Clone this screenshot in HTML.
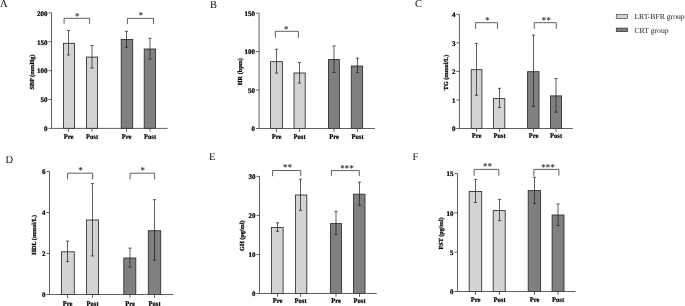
<!DOCTYPE html>
<html><head><meta charset="utf-8"><title>Figure</title>
<style>
html,body{margin:0;padding:0;background:#fff;}
body{width:685px;height:306px;overflow:hidden;}
svg{display:block;text-rendering:geometricPrecision;filter:blur(0.3px);}
text{font-family:"Liberation Serif", "Times New Roman", serif;}
.tk{font-size:7.0px;font-weight:bold;fill:#000;stroke:#000;stroke-width:0.22px;}
.xl{font-size:7.1px;font-weight:bold;fill:#000;stroke:#000;stroke-width:0.22px;}
.yl{font-size:6.2px;font-weight:bold;fill:#000;stroke:#000;stroke-width:0.22px;}
.st{font-family:"DejaVu Sans",sans-serif;font-size:8.2px;font-weight:bold;fill:#3a3a3a;letter-spacing:0.4px;}
.lt{font-size:10.5px;fill:#111;}
.lg{font-size:7.7px;fill:#1a1a1a;}
</style></head><body>
<svg width="685" height="306" viewBox="0 0 685 306">
<rect width="685" height="306" fill="#fff"/>
<g><text class="lt" x="0" y="7.4">A</text><rect x="63.5" y="43.3" width="11" height="85.1" fill="#d3d3d3" stroke="#2a2a2a" stroke-width="0.85"/><path d="M68.5 30.5V55M66.9 30.5H70.1M66.9 55H70.1" stroke="#1a1a1a" stroke-width="0.7" fill="none"/><rect x="86.5" y="57.1" width="11.1" height="71.3" fill="#d3d3d3" stroke="#2a2a2a" stroke-width="0.85"/><path d="M92 45.5V68.1M90.4 45.5H93.6M90.4 68.1H93.6" stroke="#1a1a1a" stroke-width="0.7" fill="none"/><rect x="121.2" y="39.5" width="11.5" height="88.9" fill="#808080" stroke="#2a2a2a" stroke-width="0.85"/><path d="M126.5 31.3V47.3M124.9 31.3H128.1M124.9 47.3H128.1" stroke="#1a1a1a" stroke-width="0.7" fill="none"/><rect x="144.2" y="49" width="11.4" height="79.4" fill="#808080" stroke="#2a2a2a" stroke-width="0.85"/><path d="M150 38.3V59M148.4 38.3H151.6M148.4 59H151.6" stroke="#1a1a1a" stroke-width="0.7" fill="none"/><path d="M51.5 12.8V128.4H167.6M48.5 12.8H51.5M48.5 41.7H51.5M48.5 70.6H51.5M48.5 99.5H51.5M48.5 128.4H51.5M68.5 128.4V131.7M92 128.4V131.7M126.5 128.4V131.7M150 128.4V131.7" stroke="#454545" stroke-width="0.85" fill="none"/><text class="tk" x="47.5" y="15.6" text-anchor="end">200</text><text class="tk" x="47.5" y="44.5" text-anchor="end">150</text><text class="tk" x="47.5" y="73.4" text-anchor="end">100</text><text class="tk" x="47.5" y="102.3" text-anchor="end">50</text><text class="tk" x="47.5" y="131.2" text-anchor="end">0</text><text class="xl" text-anchor="middle" x="68.6" y="139" textLength="9.8" lengthAdjust="spacingAndGlyphs">Pre</text><text class="xl" text-anchor="middle" x="92.1" y="139" textLength="11.97" lengthAdjust="spacingAndGlyphs">Post</text><text class="xl" text-anchor="middle" x="126.6" y="139" textLength="9.8" lengthAdjust="spacingAndGlyphs">Pre</text><text class="xl" text-anchor="middle" x="150.1" y="139" textLength="11.97" lengthAdjust="spacingAndGlyphs">Post</text><path d="M64.1 24V18.3H89.6V24" stroke="#454545" stroke-width="0.85" fill="none"/><text class="st" x="77.3" y="18.7" text-anchor="middle">*</text><path d="M127.4 24.1V18.4H153.5V24.1" stroke="#454545" stroke-width="0.85" fill="none"/><text class="st" x="141.2" y="18.35" text-anchor="middle">*</text><text class="yl" text-anchor="middle" transform="translate(34.2 72) rotate(-90)">SBP (mmHg)</text></g><g><text class="lt" x="210" y="7.6">B</text><rect x="270.4" y="61.7" width="12" height="66.8" fill="#d3d3d3" stroke="#2a2a2a" stroke-width="0.85"/><path d="M276.5 49.3V73.1M274.9 49.3H278.1M274.9 73.1H278.1" stroke="#1a1a1a" stroke-width="0.7" fill="none"/><rect x="294" y="73" width="11.2" height="55.5" fill="#d3d3d3" stroke="#2a2a2a" stroke-width="0.85"/><path d="M299.5 62.5V83.1M297.9 62.5H301.1M297.9 83.1H301.1" stroke="#1a1a1a" stroke-width="0.7" fill="none"/><rect x="328.5" y="59.6" width="10.9" height="68.9" fill="#808080" stroke="#2a2a2a" stroke-width="0.85"/><path d="M334 45.9V72.5M332.4 45.9H335.6M332.4 72.5H335.6" stroke="#1a1a1a" stroke-width="0.7" fill="none"/><rect x="351.3" y="66" width="11.3" height="62.5" fill="#808080" stroke="#2a2a2a" stroke-width="0.85"/><path d="M357.5 58.2V72.7M355.9 58.2H359.1M355.9 72.7H359.1" stroke="#1a1a1a" stroke-width="0.7" fill="none"/><path d="M259.1 13.2V128.5H375M256.1 13.2H259.1M256.1 51.6H259.1M256.1 90H259.1M256.1 128.5H259.1M276.5 128.5V131.8M299.5 128.5V131.8M334 128.5V131.8M357.5 128.5V131.8" stroke="#454545" stroke-width="0.85" fill="none"/><text class="tk" x="255.1" y="16" text-anchor="end">150</text><text class="tk" x="255.1" y="54.4" text-anchor="end">100</text><text class="tk" x="255.1" y="92.8" text-anchor="end">50</text><text class="tk" x="255.1" y="131.3" text-anchor="end">0</text><text class="xl" text-anchor="middle" x="276.6" y="138.7" textLength="9.8" lengthAdjust="spacingAndGlyphs">Pre</text><text class="xl" text-anchor="middle" x="299.6" y="138.7" textLength="11.97" lengthAdjust="spacingAndGlyphs">Post</text><text class="xl" text-anchor="middle" x="334.1" y="138.7" textLength="9.8" lengthAdjust="spacingAndGlyphs">Pre</text><text class="xl" text-anchor="middle" x="357.6" y="138.7" textLength="11.97" lengthAdjust="spacingAndGlyphs">Post</text><path d="M275.3 37.8V31.3H298.4V37.8" stroke="#454545" stroke-width="0.85" fill="none"/><text class="st" x="286.25" y="32.1" text-anchor="middle">*</text><text class="yl" text-anchor="middle" transform="translate(241.6 71.7) rotate(-90)">HR (bpm)</text></g><g><text class="lt" x="415" y="7.4">C</text><rect x="471.2" y="69.7" width="10.7" height="58.8" fill="#d3d3d3" stroke="#2a2a2a" stroke-width="0.85"/><path d="M476.5 43.4V95.3M474.9 43.4H478.1M474.9 95.3H478.1" stroke="#1a1a1a" stroke-width="0.7" fill="none"/><rect x="493.4" y="98.6" width="11.4" height="29.9" fill="#d3d3d3" stroke="#2a2a2a" stroke-width="0.85"/><path d="M499.5 88.3V107.5M497.9 88.3H501.1M497.9 107.5H501.1" stroke="#1a1a1a" stroke-width="0.7" fill="none"/><rect x="527.6" y="71.7" width="11.4" height="56.8" fill="#808080" stroke="#2a2a2a" stroke-width="0.85"/><path d="M533.5 35.2V106.4M531.9 35.2H535.1M531.9 106.4H535.1" stroke="#1a1a1a" stroke-width="0.7" fill="none"/><rect x="550.4" y="95.9" width="11.2" height="32.6" fill="#808080" stroke="#2a2a2a" stroke-width="0.85"/><path d="M556 78.6V112.2M554.4 78.6H557.6M554.4 112.2H557.6" stroke="#1a1a1a" stroke-width="0.7" fill="none"/><path d="M459.4 14.4V128.5H572.8M456.4 14.4H459.4M456.4 42.9H459.4M456.4 71.45H459.4M456.4 100H459.4M456.4 128.5H459.4M476.5 128.5V131.8M499.5 128.5V131.8M533.5 128.5V131.8M556 128.5V131.8" stroke="#454545" stroke-width="0.85" fill="none"/><text class="tk" x="455.4" y="17.2" text-anchor="end">4</text><text class="tk" x="455.4" y="45.7" text-anchor="end">3</text><text class="tk" x="455.4" y="74.25" text-anchor="end">2</text><text class="tk" x="455.4" y="102.8" text-anchor="end">1</text><text class="tk" x="455.4" y="131.3" text-anchor="end">0</text><text class="xl" text-anchor="middle" x="476.6" y="138.4" textLength="9.8" lengthAdjust="spacingAndGlyphs">Pre</text><text class="xl" text-anchor="middle" x="499.6" y="138.4" textLength="11.97" lengthAdjust="spacingAndGlyphs">Post</text><text class="xl" text-anchor="middle" x="533.6" y="138.4" textLength="9.8" lengthAdjust="spacingAndGlyphs">Pre</text><text class="xl" text-anchor="middle" x="556.1" y="138.4" textLength="11.97" lengthAdjust="spacingAndGlyphs">Post</text><path d="M475.6 28.8V22.7H497.5V28.8" stroke="#454545" stroke-width="0.85" fill="none"/><text class="st" x="487.5" y="23.3" text-anchor="middle">*</text><path d="M534.3 28.8V22.7H556.3V28.8" stroke="#454545" stroke-width="0.85" fill="none"/><text class="st" x="546.4" y="23.3" text-anchor="middle">**</text><text class="yl" text-anchor="middle" transform="translate(447.6 72.4) rotate(-90)">TG (mmol/L)</text></g><g><text class="lt" x="5.5" y="162.8">D</text><rect x="61.4" y="251.8" width="12.9" height="42.7" fill="#d3d3d3" stroke="#2a2a2a" stroke-width="0.85"/><path d="M67.5 241.1V261.6M65.9 241.1H69.1M65.9 261.6H69.1" stroke="#1a1a1a" stroke-width="0.7" fill="none"/><rect x="86.4" y="220" width="12.1" height="74.5" fill="#d3d3d3" stroke="#2a2a2a" stroke-width="0.85"/><path d="M92.5 183.6V256M90.9 183.6H94.1M90.9 256H94.1" stroke="#1a1a1a" stroke-width="0.7" fill="none"/><rect x="123.8" y="258" width="12" height="36.5" fill="#808080" stroke="#2a2a2a" stroke-width="0.85"/><path d="M130 248.1V267M128.4 248.1H131.6M128.4 267H131.6" stroke="#1a1a1a" stroke-width="0.7" fill="none"/><rect x="148.3" y="230.7" width="12.4" height="63.8" fill="#808080" stroke="#2a2a2a" stroke-width="0.85"/><path d="M154.5 199.7V260.2M152.9 199.7H156.1M152.9 260.2H156.1" stroke="#1a1a1a" stroke-width="0.7" fill="none"/><path d="M49.5 171.5V294.5H173.3M46.5 171.5H49.5M46.5 212.5H49.5M46.5 253.5H49.5M46.5 294.5H49.5M67.5 294.5V297.8M92.5 294.5V297.8M130 294.5V297.8M154.5 294.5V297.8" stroke="#454545" stroke-width="0.85" fill="none"/><text class="tk" x="45.5" y="174.3" text-anchor="end">6</text><text class="tk" x="45.5" y="215.3" text-anchor="end">4</text><text class="tk" x="45.5" y="256.3" text-anchor="end">2</text><text class="tk" x="45.5" y="297.3" text-anchor="end">0</text><text class="xl" text-anchor="middle" x="67.6" y="305.7" textLength="9.8" lengthAdjust="spacingAndGlyphs">Pre</text><text class="xl" text-anchor="middle" x="92.6" y="305.7" textLength="11.97" lengthAdjust="spacingAndGlyphs">Post</text><text class="xl" text-anchor="middle" x="130.1" y="305.7" textLength="9.8" lengthAdjust="spacingAndGlyphs">Pre</text><text class="xl" text-anchor="middle" x="154.6" y="305.7" textLength="11.97" lengthAdjust="spacingAndGlyphs">Post</text><path d="M67.5 179.3V173.2H92.6V179.3" stroke="#454545" stroke-width="0.85" fill="none"/><text class="st" x="80.95" y="173.2" text-anchor="middle">*</text><path d="M130.1 179.3V173.2H154.6V179.3" stroke="#454545" stroke-width="0.85" fill="none"/><text class="st" x="142.95" y="173.2" text-anchor="middle">*</text><text class="yl" text-anchor="middle" transform="translate(35.6 234.9) rotate(-90)">HDL (mmol/L)</text></g><g><text class="lt" x="209" y="160">E</text><rect x="271.4" y="227.5" width="11.7" height="66" fill="#d3d3d3" stroke="#2a2a2a" stroke-width="0.85"/><path d="M277.5 222.8V231.4M275.9 222.8H279.1M275.9 231.4H279.1" stroke="#1a1a1a" stroke-width="0.7" fill="none"/><rect x="295.4" y="195" width="11.4" height="98.5" fill="#d3d3d3" stroke="#2a2a2a" stroke-width="0.85"/><path d="M300.5 179.2V210.3M298.9 179.2H302.1M298.9 210.3H302.1" stroke="#1a1a1a" stroke-width="0.7" fill="none"/><rect x="330.4" y="223.6" width="11.2" height="69.9" fill="#808080" stroke="#2a2a2a" stroke-width="0.85"/><path d="M336 211.4V234.4M334.4 211.4H337.6M334.4 234.4H337.6" stroke="#1a1a1a" stroke-width="0.7" fill="none"/><rect x="353.5" y="194.2" width="11.5" height="99.3" fill="#808080" stroke="#2a2a2a" stroke-width="0.85"/><path d="M359.5 182.2V205.3M357.9 182.2H361.1M357.9 205.3H361.1" stroke="#1a1a1a" stroke-width="0.7" fill="none"/><path d="M259.5 176.3V293.5H376.8M256.5 176.4H259.5M256.5 215.4H259.5M256.5 254.5H259.5M256.5 293.5H259.5M277.5 293.5V296.8M300.5 293.5V296.8M336 293.5V296.8M359.5 293.5V296.8" stroke="#454545" stroke-width="0.85" fill="none"/><text class="tk" x="255.5" y="179.2" text-anchor="end">30</text><text class="tk" x="255.5" y="218.2" text-anchor="end">20</text><text class="tk" x="255.5" y="257.3" text-anchor="end">10</text><text class="tk" x="255.5" y="296.3" text-anchor="end">0</text><text class="xl" text-anchor="middle" x="277.6" y="303.4" textLength="9.8" lengthAdjust="spacingAndGlyphs">Pre</text><text class="xl" text-anchor="middle" x="300.6" y="303.4" textLength="11.97" lengthAdjust="spacingAndGlyphs">Post</text><text class="xl" text-anchor="middle" x="336.1" y="303.4" textLength="9.8" lengthAdjust="spacingAndGlyphs">Pre</text><text class="xl" text-anchor="middle" x="359.6" y="303.4" textLength="11.97" lengthAdjust="spacingAndGlyphs">Post</text><path d="M272.6 176.2V170.5H300.7V176.2" stroke="#454545" stroke-width="0.85" fill="none"/><text class="st" x="287.8" y="170.2" text-anchor="middle">**</text><path d="M331.4 176.1V170.6H359.3V176.1" stroke="#454545" stroke-width="0.85" fill="none"/><text class="st" x="347.2" y="170.55" text-anchor="middle">***</text><text class="yl" text-anchor="middle" transform="translate(243.8 235.7) rotate(-90)">GH (pg/ml)</text></g><g><text class="lt" x="412.5" y="160">F</text><rect x="469.2" y="191.4" width="12.5" height="100.1" fill="#d3d3d3" stroke="#2a2a2a" stroke-width="0.85"/><path d="M475.5 179.4V202.5M473.9 179.4H477.1M473.9 202.5H477.1" stroke="#1a1a1a" stroke-width="0.7" fill="none"/><rect x="493.2" y="210.6" width="12" height="80.9" fill="#d3d3d3" stroke="#2a2a2a" stroke-width="0.85"/><path d="M499.5 199.4V220.6M497.9 199.4H501.1M497.9 220.6H501.1" stroke="#1a1a1a" stroke-width="0.7" fill="none"/><rect x="528.2" y="190.6" width="12.4" height="100.9" fill="#808080" stroke="#2a2a2a" stroke-width="0.85"/><path d="M534.5 177.2V203.6M532.9 177.2H536.1M532.9 203.6H536.1" stroke="#1a1a1a" stroke-width="0.7" fill="none"/><rect x="552.1" y="215" width="11.9" height="76.5" fill="#808080" stroke="#2a2a2a" stroke-width="0.85"/><path d="M558 203.9V225.6M556.4 203.9H559.6M556.4 225.6H559.6" stroke="#1a1a1a" stroke-width="0.7" fill="none"/><path d="M457.5 173.5V291.5H575.5M454.5 173.5H457.5M454.5 212.8H457.5M454.5 252.2H457.5M454.5 291.5H457.5M475.5 291.5V294.8M499.5 291.5V294.8M534.5 291.5V294.8M558 291.5V294.8" stroke="#454545" stroke-width="0.85" fill="none"/><text class="tk" x="453.5" y="176.3" text-anchor="end">15</text><text class="tk" x="453.5" y="215.6" text-anchor="end">10</text><text class="tk" x="453.5" y="255" text-anchor="end">5</text><text class="tk" x="453.5" y="294.3" text-anchor="end">0</text><text class="xl" text-anchor="middle" x="475.6" y="301.7" textLength="9.8" lengthAdjust="spacingAndGlyphs">Pre</text><text class="xl" text-anchor="middle" x="499.6" y="301.7" textLength="11.97" lengthAdjust="spacingAndGlyphs">Post</text><text class="xl" text-anchor="middle" x="534.6" y="301.7" textLength="9.8" lengthAdjust="spacingAndGlyphs">Pre</text><text class="xl" text-anchor="middle" x="558.1" y="301.7" textLength="11.97" lengthAdjust="spacingAndGlyphs">Post</text><path d="M474.2 175.8V169.4H498.8V175.8" stroke="#454545" stroke-width="0.85" fill="none"/><text class="st" x="487.8" y="169.2" text-anchor="middle">**</text><path d="M533.8 175.8V169.4H558.8V175.8" stroke="#454545" stroke-width="0.85" fill="none"/><text class="st" x="548.2" y="169.95" text-anchor="middle">***</text><text class="yl" text-anchor="middle" transform="translate(442.7 233.5) rotate(-90)">FST (pg/ml)</text></g>
<g>
<rect x="616.3" y="14.6" width="11.3" height="3.9" fill="#d3d3d3" stroke="#505050" stroke-width="0.75"/>
<rect x="616.3" y="28.1" width="11.3" height="3.5" fill="#808080" stroke="#333" stroke-width="0.75"/>
<text class="lg" x="634.4" y="19.3">LRT-BFR group</text>
<text class="lg" x="634.4" y="32.6">CRT group</text>
</g>
</svg>
</body></html>
